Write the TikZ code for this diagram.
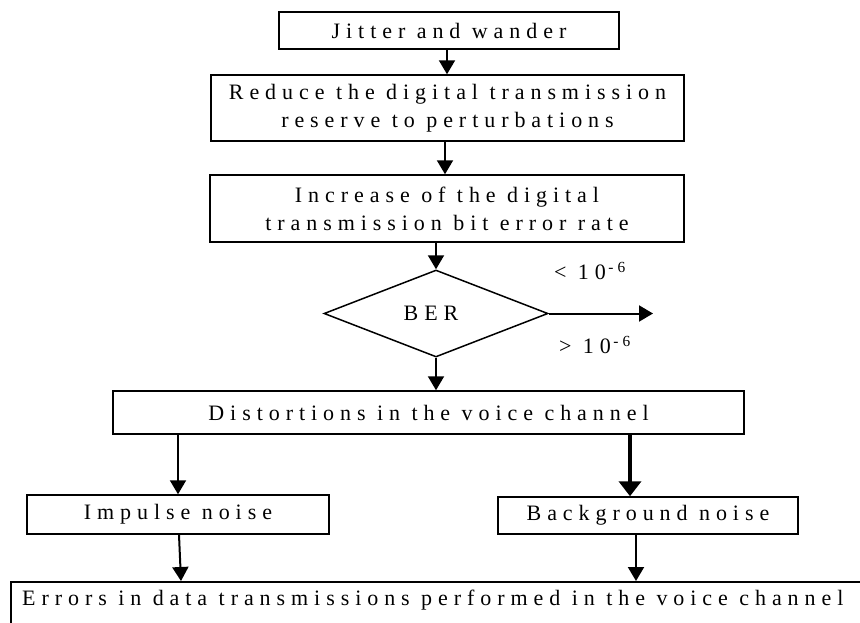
\documentclass[tikz,border=0pt]{standalone}
\usepackage{fontspec}
\setmainfont{Liberation Serif}[LetterSpace=27]
\usetikzlibrary{shapes.geometric,arrows.meta,calc}
\begin{document}
\begin{tikzpicture}[x=1pt,y=-1pt,
  every node/.style={font=\fontsize{22}{28}\selectfont},
  box/.style={draw, line width=1.5pt, rectangle, inner sep=0pt, align=center},
  arr/.style={line width=2pt, -{Triangle[width=16pt,length=14pt]}},
  thickarr/.style={line width=4.5pt, -{Triangle[width=22pt,length=15pt]}},
  lbl/.style={inner sep=0pt}]
\useasboundingbox (0,0) rectangle (860,622);
\clip (0,0) rectangle (860,622);

% process boxes
\node[box, minimum width=340pt, minimum height=37pt] (jw) at (449,30.5) {Jitter and wander};
\node[box, minimum width=473pt, minimum height=66pt] (rd) at (447.5,108) {Reduce the digital transmission\\reserve to perturbations};
\node[box, minimum width=474pt, minimum height=67pt] (ib) at (447,208.5) {Increase of the digital\\transmission bit error rate};

% decision
\node[draw, line width=1.5pt, diamond, inner sep=0pt, minimum width=224pt, minimum height=87pt] (ber) at (436,313.5) {BER\hspace*{10pt}};
\coordinate (out) at (653,313.5);
\node[lbl] (lt) at (590,271) {<~10\textsuperscript{\,-6}};
\node[lbl] (gt) at (595,345) {>~10\textsuperscript{\,-6}};

% consequences
\node[box, minimum width=631pt, minimum height=43pt] (dv) at (428.5,412.5) {Distortions in the voice channel};
\node[box, minimum width=302pt, minimum height=39pt] (im) at (178,514.5) {Impulse noise};
\node[box, minimum width=300pt, minimum height=37pt] (bg) at (648,515.5) {Background noise};
\node[box, anchor=north west, minimum width=900pt, minimum height=80pt] (er) at (10,581) {};
\node[lbl, anchor=base west] (ert) at (22,605) {Errors in data transmissions performed in the voice channel};

% connector end points
\coordinate (jws) at ([xshift=-2pt]jw.south);
\coordinate (rds) at ([xshift=-2.5pt]rd.south);
\coordinate (bgin) at ([xshift=-18pt]bg.north);
\coordinate (ims) at ([xshift=1pt]im.south);
\coordinate (ime) at ([xshift=3pt]im.south);
\coordinate (bgs) at ([xshift=-12pt]bg.south);

% connectors
\draw[arr] (jws) -- (jws |- rd.north);
\draw[arr] (rds) -- (rds |- ib.north);
\draw[arr] (ber.north |- ib.south) -- (ber.north);
\draw[arr] (ber.east) -- (out);
\draw[arr] (ber.south) -- (ber.south |- dv.north);
\draw[arr] (im.north |- dv.south) -- (im.north);
\draw[thickarr] (bgin |- dv.south) -- (bgin);
\draw[arr] (ims) -- (ime |- er.north);
\draw[arr] (bgs) -- (bgs |- er.north);
\end{tikzpicture}
\end{document}
